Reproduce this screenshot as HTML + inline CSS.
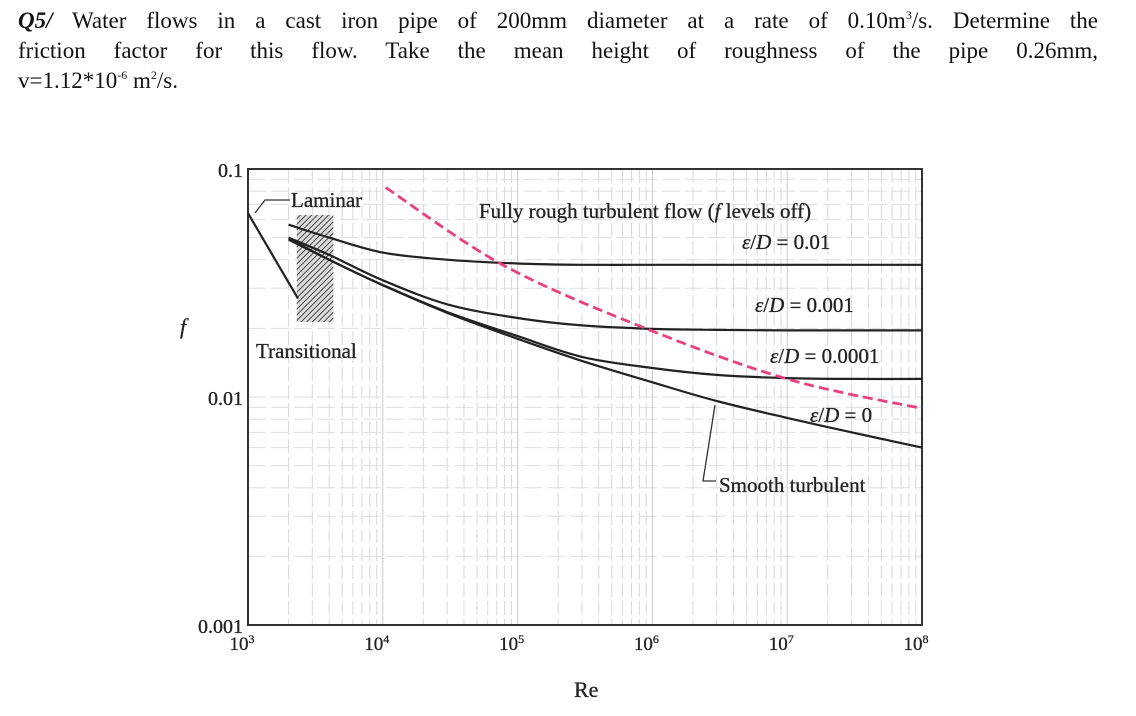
<!DOCTYPE html>
<html><head><meta charset="utf-8"><style>
body{margin:0;width:1136px;height:716px;background:#fff;overflow:hidden;font-family:"Liberation Serif",serif;}
#q{position:absolute;left:18px;top:6px;width:1080px;font-size:23px;line-height:30px;color:#111;}
#q .l{text-align:justify;text-align-last:justify;height:30px;}
#q sup{font-size:12px;line-height:0;vertical-align:0;position:relative;top:-9px;}
svg{position:absolute;left:0;top:0;}
</style></head><body>
<div id="q">
<div class="l"><b><i>Q5/</i></b> Water flows in a cast iron pipe of 200mm diameter at a rate of 0.10m<sup>3</sup>/s. Determine the</div>
<div class="l">friction factor for this flow. Take the mean height of roughness of the pipe 0.26mm,</div>
<div style="height:30px">v=1.12*10<sup>-6</sup> m<sup>2</sup>/s.</div>
</div>
<svg id="chart" width="1136" height="716"></svg>
<script>
const reValues=[2000,4000,1e4,3e4,1e5,3e5,1e6,3e6,1e7,3e7,1e8];
const fRough01=[0.057,0.050,0.043,0.040,0.0385,0.038,0.038,0.038,0.038,0.038,0.038];
const fRough001=[0.050,0.042,0.0325,0.0255,0.0222,0.0206,0.0199,0.0197,0.0196,0.0196,0.0196];
const fRough0001=[0.0495,0.040,0.031,0.0236,0.0185,0.0150,0.0134,0.0125,0.0121,0.0120,0.0120];
const fSmooth=[0.049,0.040,0.0309,0.0234,0.018,0.0144,0.0116,0.0096,0.0081,0.0070,0.0060];
const laminarRe=[1000,2350];
const laminarF=[0.064,0.027];
const dashRe=[1.05e4,8e4,9.5e5,1.05e7,1e8];
const dashF=[0.083,0.0376,0.0197,0.0119,0.0089];
const xTickExps=[3,4,5,6,7,8];
const yTickLabels=["0.1","0.01","0.001"];
const yTickVals=[0.1,0.01,0.001];

const L=248,R=922,T=169,B=625;
const X=v=>L+(Math.log10(v)-3)/5*(R-L);
const Y=v=>T+(-1-Math.log10(v))/2*(B-T);
const svg=document.getElementById('chart');
const NS='http://www.w3.org/2000/svg';
function mk(tag,at,parent){const e=document.createElementNS(NS,tag);for(const k in at)e.setAttribute(k,at[k]);(parent||svg).appendChild(e);return e;}

const grid=mk('g',{});


for(let d=3;d<8;d++)for(let m=2;m<=9;m++){const x=X(m*Math.pow(10,d));
 const g=mk('line',{x1:x,x2:x,y1:T,y2:B,stroke:'#d8d8d8','stroke-width':1,'stroke-dasharray':'14 4'},grid);
 }
for(let d=-3;d<-1;d++)for(let m=1;m<=9;m++){const y=Y(m*Math.pow(10,d));
 const g=mk('line',{x1:L,x2:R,y1:y,y2:y,stroke:'#dedede','stroke-width':1,'stroke-dasharray':'18 5'},grid);
 }
for(const e of xTickExps){const x=X(Math.pow(10,e));const g=mk('line',{x1:x,x2:x,y1:T,y2:B,stroke:'#ccc'},grid);
 }

const defs=mk('defs',{});
const pat=mk('pattern',{id:'hatch',width:4,height:4,patternUnits:'userSpaceOnUse',patternTransform:'rotate(45)'},defs);
mk('rect',{width:4,height:4,fill:'#ddd'},pat);
mk('line',{x1:0,y1:0,x2:0,y2:4,stroke:'#444','stroke-width':2},pat);
const hb=mk('rect',{x:X(2300),y:215,width:X(4300)-X(2300),height:107,fill:'url(#hatch)'});



const fr=mk('rect',{x:L,y:T,width:R-L,height:B-T,fill:'none',stroke:'#333','stroke-width':2});



function curve(xs,ys,name,attrs){
 const pts=xs.map((v,i)=>[X(v),Y(ys[i])]);
 let d='M'+pts[0][0].toFixed(1)+' '+pts[0][1].toFixed(1);
 for(let i=1;i<pts.length;i++){
  const p0=pts[i-2]||pts[i-1],p1=pts[i-1],p2=pts[i],p3=pts[i+1]||pts[i];
  const c1=[p1[0]+(p2[0]-p0[0])/6,p1[1]+(p2[1]-p0[1])/6],c2=[p2[0]-(p3[0]-p1[0])/6,p2[1]-(p3[1]-p1[1])/6];
  d+=' C'+c1.map(n=>n.toFixed(1)).join(' ')+' '+c2.map(n=>n.toFixed(1)).join(' ')+' '+p2.map(n=>n.toFixed(1)).join(' ');
 }
 const p=mk('path',Object.assign({d:d,fill:'none',stroke:'#222','stroke-width':2.2,'stroke-linejoin':'round'},attrs||{}));
 
 
}
curve(laminarRe,laminarF,'laminar-line');
curve(reValues,fRough01,'curve-ed-0.01');
curve(reValues,fRough001,'curve-ed-0.001');
curve(reValues,fRough0001,'curve-ed-0.0001');
curve(reValues,fSmooth,'curve-smooth');
curve(dashRe,dashF,'fully-rough-boundary',{stroke:'#e8417f','stroke-dasharray':'10 5','stroke-width':2.8});

const l1=mk('path',{d:'M255 213 L265 200 L290 200',fill:'none',stroke:'#333','stroke-width':1.3});

const l2=mk('path',{d:'M715 405 L703 481 L716 481',fill:'none',stroke:'#333','stroke-width':1.3});


function txt(x,y,s,name,at){const t=mk('text',Object.assign({x:x,y:y,'font-size':21,fill:'#222',stroke:'#222','stroke-width':0.3,'font-family':'Liberation Serif, serif'},at||{}));t.innerHTML=s;
 return t;}
txt(291,207,'Laminar','laminar-label');
txt(256,358,'Transitional','transitional-label');
txt(479,218,'Fully rough turbulent flow (<tspan font-style="italic">f</tspan> levels off)','fully-rough-label');
txt(742,249,'<tspan font-style="italic">ε</tspan>/<tspan font-style="italic">D</tspan> = 0.01','label-ed-0.01');
txt(755,312,'<tspan font-style="italic">ε</tspan>/<tspan font-style="italic">D</tspan> = 0.001','label-ed-0.001');
txt(770,363,'<tspan font-style="italic">ε</tspan>/<tspan font-style="italic">D</tspan> = 0.0001','label-ed-0.0001');
txt(810,422,'<tspan font-style="italic">ε</tspan>/<tspan font-style="italic">D</tspan> = 0','label-ed-0');
txt(719,492,'Smooth turbulent','smooth-label');
txt(180,334,'f','y-axis-title',{'font-style':'italic','font-size':22});
txt(574,697,'Re','x-axis-title',{'font-size':22});
yTickVals.forEach((v,i)=>txt(243,Y(v)+8,yTickLabels[i],'y-tick-label',{'text-anchor':'end','font-size':20}));
xTickExps.forEach(e=>txt(X(Math.pow(10,e))-6,650,'10<tspan dy="-7" font-size="12">'+e+'</tspan>','x-tick-label',{'text-anchor':'middle','font-size':19}));
</script>
</body></html>
